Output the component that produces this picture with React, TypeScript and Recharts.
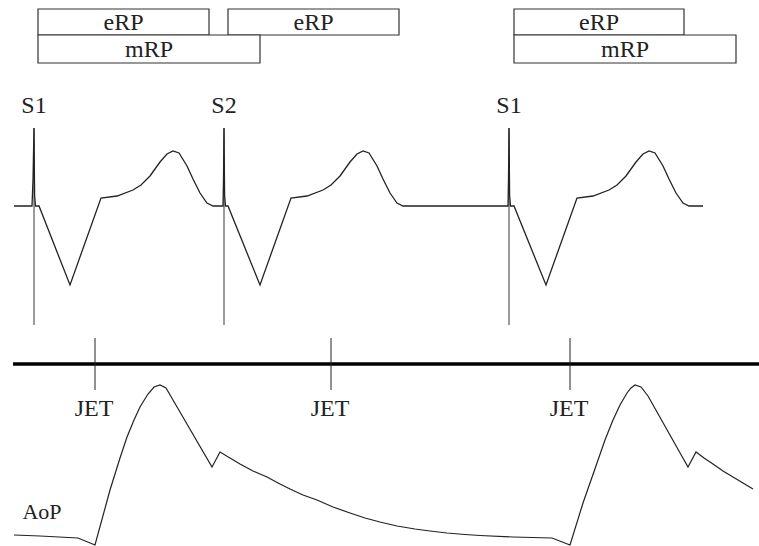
import React from 'react';
import { ComposedChart, Line, XAxis, YAxis, ReferenceLine, ReferenceArea, ReferenceDot } from 'recharts';

// time runs left -> right, level is read top -> bottom off the drawing
const ecgTrace = [
  { t: 14, v: 206 }, { t: 32, v: 206 }, { t: 33, v: 180 }, { t: 34, v: 128 }, { t: 34.6, v: 195 }, { t: 35.5, v: 206 },
  { t: 39, v: 206 }, { t: 70, v: 285 }, { t: 101, v: 198 }, { t: 117, v: 196 }, { t: 133, v: 190 }, { t: 141, v: 185 },
  { t: 150, v: 176 }, { t: 160, v: 162 }, { t: 167, v: 154 }, { t: 173, v: 151 }, { t: 179, v: 153 }, { t: 187, v: 166 },
  { t: 193, v: 179 }, { t: 200, v: 193 }, { t: 207, v: 203 }, { t: 213, v: 206 }, { t: 223, v: 206 },
  { t: 223.5, v: 180 }, { t: 224, v: 128 }, { t: 224.6, v: 195 }, { t: 225.5, v: 206 }, { t: 228, v: 206 }, { t: 260, v: 285 },
  { t: 291, v: 198 }, { t: 307, v: 196 }, { t: 323, v: 190 }, { t: 331, v: 185 }, { t: 340, v: 176 }, { t: 350, v: 162 },
  { t: 357, v: 154 }, { t: 363, v: 151 }, { t: 369, v: 153 }, { t: 377, v: 166 }, { t: 383, v: 179 }, { t: 390, v: 193 },
  { t: 397, v: 203 }, { t: 403, v: 206 }, { t: 508, v: 206 }, { t: 508.5, v: 180 }, { t: 509, v: 128 }, { t: 509.6, v: 195 },
  { t: 510.5, v: 206 }, { t: 514, v: 206 }, { t: 546, v: 285 }, { t: 577, v: 198 }, { t: 593, v: 196 }, { t: 609, v: 190 },
  { t: 617, v: 185 }, { t: 626, v: 176 }, { t: 636, v: 162 }, { t: 643, v: 154 }, { t: 649, v: 151 }, { t: 655, v: 153 },
  { t: 663, v: 166 }, { t: 669, v: 179 }, { t: 676, v: 193 }, { t: 683, v: 203 }, { t: 689, v: 206 }, { t: 703, v: 206 },
];

const aopTrace = [
  { t: 14, v: 535 }, { t: 40, v: 536 }, { t: 78, v: 538 }, { t: 95, v: 545 }, { t: 110, v: 490 }, { t: 120, v: 458 },
  { t: 127, v: 437 }, { t: 134, v: 420 }, { t: 140, v: 407 }, { t: 148, v: 394 }, { t: 154, v: 387 }, { t: 160, v: 385 },
  { t: 166, v: 388 }, { t: 173, v: 400 }, { t: 212, v: 467 }, { t: 220, v: 452 }, { t: 230, v: 458 }, { t: 240, v: 464 },
  { t: 253, v: 471 }, { t: 267, v: 477 }, { t: 280, v: 484 }, { t: 290, v: 489 }, { t: 303, v: 495 }, { t: 317, v: 500 },
  { t: 333, v: 507 }, { t: 350, v: 513 }, { t: 365, v: 518 }, { t: 380, v: 522 }, { t: 397, v: 526 }, { t: 415, v: 529 },
  { t: 430, v: 531 }, { t: 447, v: 533 }, { t: 465, v: 534.5 }, { t: 480, v: 535.5 }, { t: 513, v: 537 }, { t: 552, v: 538 },
  { t: 570, v: 545 }, { t: 583, v: 503 }, { t: 597, v: 463 }, { t: 605, v: 440 }, { t: 613, v: 420 }, { t: 620, v: 405 },
  { t: 627, v: 393 }, { t: 631, v: 388 }, { t: 635, v: 385 }, { t: 641, v: 387 }, { t: 648, v: 396 }, { t: 688, v: 467 },
  { t: 696, v: 452 }, { t: 704, v: 458 }, { t: 713, v: 464 }, { t: 723, v: 471 }, { t: 733, v: 477 }, { t: 743, v: 483 },
  { t: 753, v: 489 },
];

// stimulus times (S1 / S2 spikes) and JET marks
const stimTimes = [34, 224, 509];
const stimNames = ['S1', 'S2', 'S1'];
const jetTimes = [95, 331, 570];

// refractory period bars
const rpBars = [
  { name: 'eRP', from: 38, to: 209, top: 9, bottom: 35 },
  { name: 'eRP', from: 228, to: 399, top: 9, bottom: 35 },
  { name: 'mRP', from: 38, to: 260, top: 35, bottom: 63 },
  { name: 'eRP', from: 514, to: 684, top: 9, bottom: 35 },
  { name: 'mRP', from: 514, to: 736, top: 35, bottom: 63 },
];

const FONT = '"Liberation Serif", "Times New Roman", serif';
const INK = '#222';

// draws a centred label inside whatever box recharts hands over
const centred = (value: string, size = 24) => (props: any) => {
  const vb = props.viewBox || {};
  const cx = (vb.x ?? 0) + (vb.width ?? 0) / 2;
  const cy = (vb.y ?? 0) + (vb.height ?? 0) / 2;
  return (
    <text x={cx} y={cy} dy="0.34em" textAnchor="middle" fontSize={size} fontFamily={FONT} fill={INK}>
      {value}
    </text>
  );
};

export default function App() {
  return (
    <div style={{ position: 'absolute', left: 0, top: 0, width: 759, height: 546, background: '#fff' }}>
      <ComposedChart width={759} height={546} margin={{ top: 0, right: 0, bottom: 0, left: 0 }}>
        <XAxis type="number" dataKey="t" domain={[0, 759]} hide allowDataOverflow />
        <YAxis type="number" domain={[0, 546]} reversed hide allowDataOverflow />

        {stimTimes.map((t, i) => (
          <ReferenceLine key={`stim-${i}`} segment={[{ x: t, y: 128 }, { x: t, y: 325 }]} stroke="#7a7a7a" strokeWidth={1.5} />
        ))}

        <Line data={ecgTrace} dataKey="v" type="linear" stroke={INK} strokeWidth={1.3} dot={false} activeDot={false} isAnimationActive={false} />
        <Line data={aopTrace} dataKey="v" type="linear" stroke={INK} strokeWidth={1.2} dot={false} activeDot={false} isAnimationActive={false} />

        <ReferenceLine segment={[{ x: 13, y: 364 }, { x: 759, y: 364 }]} stroke="#000" strokeWidth={3.5} />
        {jetTimes.map((t, i) => (
          <ReferenceLine key={`jet-${i}`} segment={[{ x: t, y: 338 }, { x: t, y: 390 }]} stroke={INK} strokeWidth={1} />
        ))}
        {jetTimes.map((t, i) => (
          <ReferenceDot key={`jetl-${i}`} x={t - 1} y={408} r={0} fill="none" stroke="none" label={{ content: centred('JET') }} />
        ))}

        {stimTimes.map((t, i) => (
          <ReferenceDot key={`stiml-${i}`} x={t} y={105} r={0} fill="none" stroke="none" label={{ content: centred(stimNames[i]) }} />
        ))}
        <ReferenceDot x={42} y={512} r={0} fill="none" stroke="none" label={{ content: centred('AoP', 22) }} />

        {rpBars.map((b, i) => (
          <ReferenceArea
            key={`rp-${i}`}
            x1={b.from}
            x2={b.to}
            y1={b.top}
            y2={b.bottom}
            fill="#fff"
            fillOpacity={1}
            stroke="#333"
            strokeWidth={1.2}
            label={{ content: centred(b.name) }}
          />
        ))}
      </ComposedChart>
    </div>
  );
}
